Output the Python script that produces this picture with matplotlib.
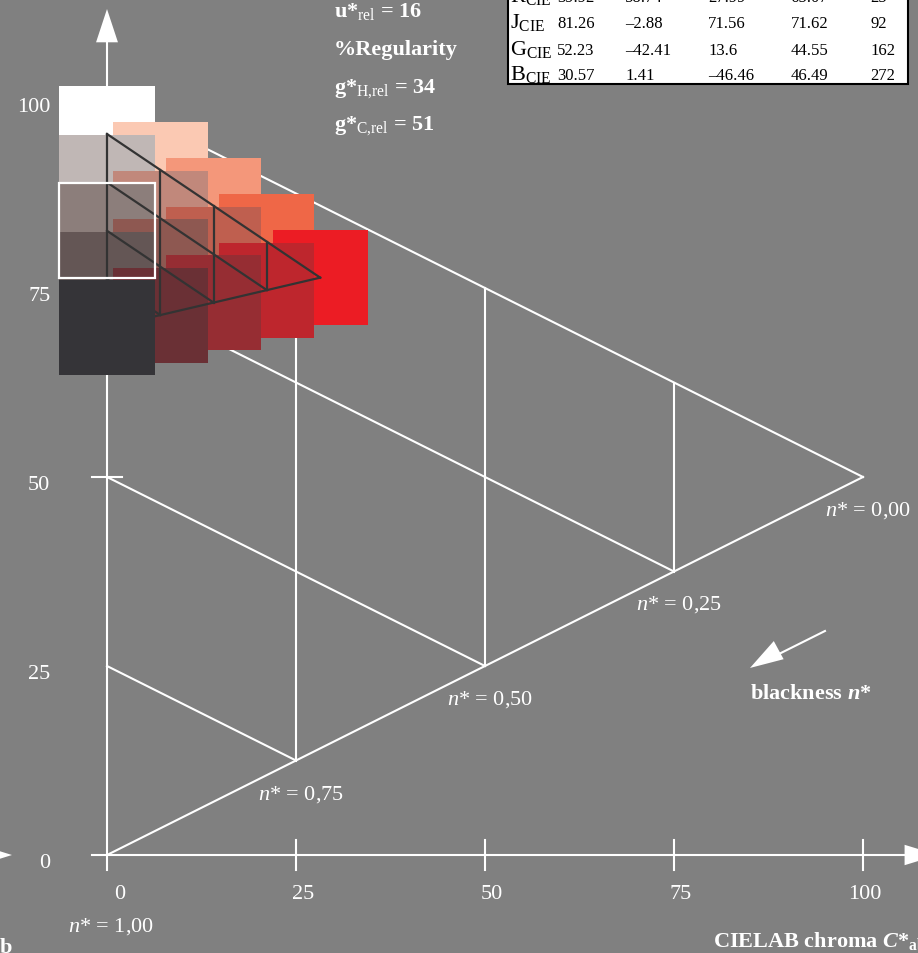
import numpy as np
import matplotlib
matplotlib.use('Agg')
import matplotlib.pyplot as plt
from matplotlib.patches import Rectangle, Polygon

plt.rcParams['font.family'] = 'Liberation Serif'
plt.rcParams['mathtext.fontset'] = 'custom'
plt.rcParams['mathtext.rm'] = 'Liberation Serif'
plt.rcParams['mathtext.it'] = 'Liberation Serif:italic'
plt.rcParams['mathtext.bf'] = 'Liberation Serif:bold'
try:
    plt.rcParams['mathtext.bfit'] = 'Liberation Serif:italic:bold'
except KeyError:
    pass

# Farbmuster: Buntheit C* und Helligkeit L*, Reihe fuer Reihe (Schwaerze steigt)
patch_row = [0, 0, 0, 0, 0, 1, 1, 1, 1, 2, 2, 2, 3, 3, 4]
patch_col = [0, 1, 2, 3, 4, 0, 1, 2, 3, 0, 1, 2, 0, 1, 0]
patch_chroma = [0, 7.05, 14.1, 21.15, 28.2,
                0, 7.05, 14.1, 21.15,
                0, 7.05, 14.1,
                0, 7.05,
                0]
patch_light = [95.37, 90.62, 85.87, 81.12, 76.37,
               88.97, 84.22, 79.47, 74.72,
               82.57, 77.82, 73.07,
               76.17, 71.42,
               69.77]
patch_colors = ['#FFFFFF', '#FBC9B3', '#F4977A', '#EF6747', '#EC1C24',
                '#C0B7B5', '#C1887B', '#BF5F4F', '#BE262D',
                '#8C7E7B', '#8E5851', '#962D33',
                '#645655', '#6A3035',
                '#353438']

x_ticks = [0, 25, 50, 75, 100]
y_ticks = [0, 25, 50, 75, 100]
n_labels = ['0,00', '0,25', '0,50', '0,75', '1,00']
n_label_pos = [(94.97, 44.97), (69.97, 32.54), (44.93, 19.97), (20.0, 7.5), (-5.1, -10.0)]

table_names = ['R', 'J', 'G', 'B']
table_L = ['39.92', '81.26', '52.23', '30.57']
table_a = ['58.74', '\u20132.88', '\u201342.41', '1.41']
table_b = ['27.99', '71.56', '13.6', '\u201346.46']
table_C = ['65.07', '71.62', '44.55', '46.49']
table_h = ['25', '92', '162', '272']

scale = 7.56  # Pixel pro Einheit
fig = plt.figure(figsize=(9.18, 9.54), dpi=100)
fig.patch.set_facecolor('#808080')
ax = fig.add_axes([0, 0, 1, 1])
ax.set_facecolor('#808080')
ax.set_xlim(-107 / scale, (918 - 107) / scale)
ax.set_ylim(-(954 - 856) / scale, 856 / scale)
ax.axis('off')

wl = 1.5
white = 'white'

# Dreieck Weiss - Schwarz - Farbe mit Hilfslinien
ax.plot([0, 100], [100, 50], color=white, lw=wl)
ax.plot([0, 100], [0, 50], color=white, lw=wl)
for y0 in [75, 50, 25]:
    ax.plot([0, y0], [y0, y0 / 2], color=white, lw=wl)
for xv in [25, 50, 75]:
    ax.plot([xv, xv], [xv / 2, 100 - xv / 2], color=white, lw=wl)

# Achsen
ax.plot([0, 0], [-2, 108], color=white, lw=wl)
ax.plot([-2, 106], [0, 0], color=white, lw=wl)
for xv in x_ticks[1:]:
    ax.plot([xv, xv], [-2, 2], color=white, lw=wl)
ax.plot([-2, 2], [50, 50], color=white, lw=wl)
ax.add_patch(Polygon([[-1.45, 107.5], [1.45, 107.5], [0, 111.9]], color=white, lw=0))
ax.add_patch(Polygon([[105.5, -1.35], [105.5, 1.35], [109.9, 0]], color=white, lw=0))
ax.add_patch(Polygon([[-16.9, -1.35], [-16.9, 1.35], [-12.57, 0]], color=white, lw=0))

for xv in x_ticks:
    ax.text(xv + 2.4, -5.1, str(xv), ha='right', va='center', color=white, fontsize=16)
for yv in y_ticks:
    ax.text(-7.5, yv - 1.0, str(yv), ha='right', va='center', color=white, fontsize=16)

for lab, (px, py) in zip(n_labels, n_label_pos):
    ax.text(px, py, r'$n$* = ' + lab, ha='left', va='baseline', color=white, fontsize=16)

# Farbmuster
size = 12.57
for c, l, col in zip(patch_chroma, patch_light, patch_colors):
    ax.add_patch(Rectangle((c - size / 2, l - size / 2), size, size,
                           facecolor=col, edgecolor='none', zorder=3))

# dunkles Gitter durch die Musterzentren
pc = np.array(patch_chroma)
pl = np.array(patch_light)
pr = np.array(patch_row)
pk = np.array(patch_col)
dark = '#333333'
for k in range(5):
    m = pr == k
    ax.plot(pc[m], pl[m], color=dark, lw=1.6, zorder=4)
    m = pk == k
    ax.plot(pc[m], pl[m], color=dark, lw=1.6, zorder=4)
m = (pr + pk) == 4
order = np.argsort(pc[m])
ax.plot(pc[m][order], pl[m][order], color=dark, lw=1.6, zorder=4)

# weiss umrandetes Muster
i2 = 9
ax.add_patch(Rectangle((patch_chroma[i2] - size / 2, patch_light[i2] - size / 2), size, size,
                       facecolor='none', edgecolor=white, lw=1.6, zorder=5))
ax.add_patch(Rectangle((0 - size / 2, patch_light[14] - size / 2), size, size,
                       facecolor=patch_colors[14], edgecolor='none', zorder=6))

# Texte oben
ax.text(30.0, 110.98, r'u*$_{\mathrm{rel}}$ = 16', color=white, fontsize=16, fontweight='bold', va='baseline')
ax.text(30.0, 105.95, '%Regularity', color=white, fontsize=16, fontweight='bold', va='baseline')
ax.text(30.0, 100.93, r'g*$_{\mathrm{H{,}rel}}$ = 34', color=white, fontsize=16, fontweight='bold', va='baseline')
ax.text(30.0, 96.03, r'g*$_{\mathrm{C{,}rel}}$ = 51', color=white, fontsize=16, fontweight='bold', va='baseline')

# Tabelle
ax.add_patch(Rectangle((53.0, 101.98), 52.95, 20, facecolor='white', edgecolor='black', lw=1.5, zorder=7))
row_y = [112.92, 109.48, 105.99, 102.61]
col_x = [59.56, 68.52, 79.54, 90.44, 101.02]
for i, name in enumerate(table_names):
    ax.text(53.31, row_y[i], name + r'$_{\mathrm{CIE}}$', fontsize=16, color='black', va='baseline', zorder=8)
    for x, v in zip(col_x, [table_L[i], table_a[i], table_b[i], table_C[i], table_h[i]]):
        ax.text(x, row_y[i], v, fontsize=12, color='black', va='baseline', zorder=8)

# Schwaerze-Pfeil
ax.plot([94.97, 88.5], [29.63, 26.4], color=white, lw=wl)
ax.add_patch(Polygon([[85.05, 24.74], [88.2, 28.3], [89.5, 25.9]], color=white, lw=0))
ax.text(85.05, 20.77, r'blackness $\mathbfit{n}$*', color=white, fontsize=16, fontweight='bold', va='baseline')

ax.text(80.1, -12.04, r'CIELAB chroma $\mathbfit{C}$*$_{\mathbf{ab}}$', color=white, fontsize=16,
        fontweight='bold', va='baseline')
ax.text(-14.15, -12.83, 'b', color=white, fontsize=16, fontweight='bold', va='baseline')

fig.savefig('out.png', dpi=100, facecolor=fig.get_facecolor())
